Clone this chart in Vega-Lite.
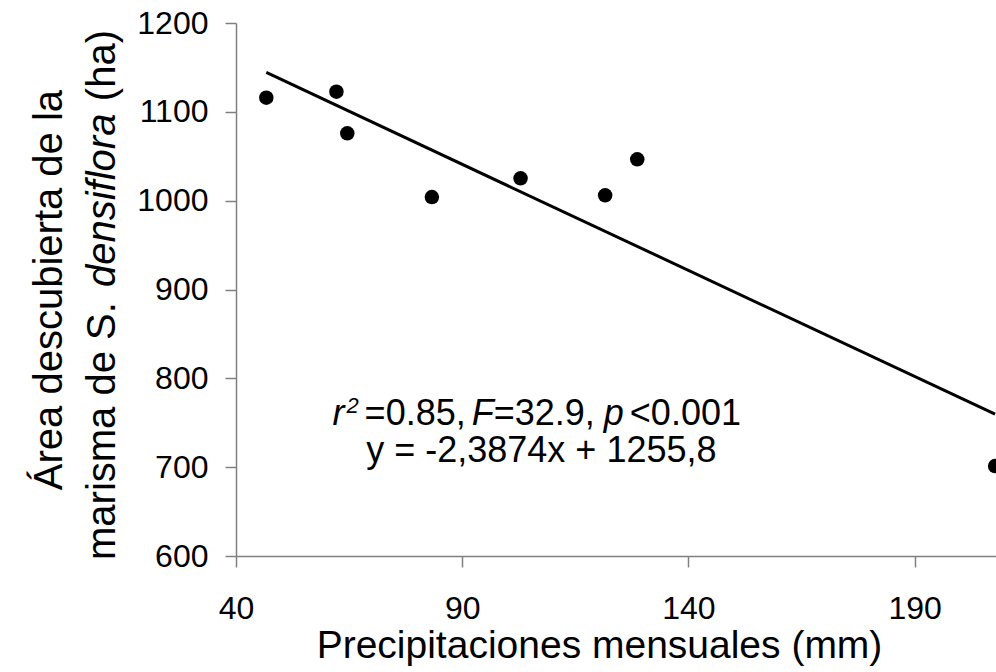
{
  "$schema": "https://vega.github.io/schema/vega-lite/v6.json",
  "autosize": {"type": "none"},
  "width": 760,
  "height": 533,
  "padding": {"left": 236, "top": 23, "right": 0, "bottom": 116},
  "background": "white",
  "config": {
    "view": {"stroke": null},
    "font": "Liberation Sans",
    "text": {"font": "Liberation Sans", "color": "black"}
  },
  "datasets": {
    "obs": [
      {"precip": 46.7, "area": 1115.9},
      {"precip": 62.2, "area": 1122.7},
      {"precip": 64.6, "area": 1075.8},
      {"precip": 83.3, "area": 1004.1},
      {"precip": 102.9, "area": 1025.2},
      {"precip": 121.6, "area": 1006.0},
      {"precip": 128.7, "area": 1046.6},
      {"precip": 207.8, "area": 701.3}
    ],
    "fit": [
      {"precip": 46.7, "area": 1144.3},
      {"precip": 207.8, "area": 759.7}
    ]
  },
  "layer": [
    {
      "data": {"name": "fit"},
      "mark": {"type": "line", "color": "black", "strokeWidth": 3, "clip": false},
      "encoding": {
        "x": {
          "field": "precip", "type": "quantitative",
          "scale": {"domain": [40, 208], "nice": false, "zero": false},
          "axis": {
            "values": [40, 90, 140, 190],
            "format": "d",
            "title": "Precipitaciones mensuales (mm)",
            "titleFont": "Liberation Sans", "titleFontSize": 39, "titleFontWeight": "normal", "titleColor": "black",
            "titlePadding": 2, "titleX": 363, "titleAlign": "center",
            "labelFont": "Liberation Sans", "labelFontSize": 32, "labelColor": "black", "labelPadding": 26,
            "labelFlush": false,
            "domainColor": "#808080", "domainWidth": 1.5,
            "tickColor": "#808080", "tickSize": 11, "tickWidth": 1.5,
            "grid": false
          }
        },
        "y": {
          "field": "area", "type": "quantitative",
          "scale": {"domain": [600, 1200], "nice": false, "zero": false},
          "axis": {
            "values": [600, 700, 800, 900, 1000, 1100, 1200],
            "format": "d",
            "title": null,
            "labelFont": "Liberation Sans", "labelFontSize": 32, "labelColor": "black", "labelPadding": 17,
            "labelFlush": false,
            "domainColor": "#808080", "domainWidth": 1.5,
            "tickColor": "#808080", "tickSize": 11, "tickWidth": 1.5,
            "grid": false
          }
        }
      }
    },
    {
      "data": {"name": "obs"},
      "mark": {"type": "point", "shape": "circle", "filled": true, "color": "black", "opacity": 1, "size": 210, "clip": false},
      "encoding": {
        "x": {"field": "precip", "type": "quantitative"},
        "y": {"field": "area", "type": "quantitative"}
      }
    },
    {
      "data": {"values": [{"t": "r"}]},
      "mark": {"type": "text", "fontSize": 36, "fontStyle": "italic", "align": "left", "baseline": "alphabetic"},
      "encoding": {"x": {"datum": 61.35}, "y": {"datum": 747.5}, "text": {"field": "t"}}
    },
    {
      "data": {"values": [{"t": "2"}]},
      "mark": {"type": "text", "fontSize": 22, "fontStyle": "italic", "align": "left", "baseline": "alphabetic"},
      "encoding": {"x": {"datum": 64.45}, "y": {"datum": 761}, "text": {"field": "t"}}
    },
    {
      "data": {"values": [{"t": "=0.85,"}]},
      "mark": {"type": "text", "fontSize": 36, "align": "left", "baseline": "alphabetic"},
      "encoding": {"x": {"datum": 68.43}, "y": {"datum": 747.5}, "text": {"field": "t"}}
    },
    {
      "data": {"values": [{"t": "F"}]},
      "mark": {"type": "text", "fontSize": 36, "fontStyle": "italic", "align": "left", "baseline": "alphabetic"},
      "encoding": {"x": {"datum": 92.1}, "y": {"datum": 747.5}, "text": {"field": "t"}}
    },
    {
      "data": {"values": [{"t": "=32.9,"}]},
      "mark": {"type": "text", "fontSize": 36, "align": "left", "baseline": "alphabetic"},
      "encoding": {"x": {"datum": 96.97}, "y": {"datum": 747.5}, "text": {"field": "t"}}
    },
    {
      "data": {"values": [{"t": "p"}]},
      "mark": {"type": "text", "fontSize": 36, "fontStyle": "italic", "align": "left", "baseline": "alphabetic"},
      "encoding": {"x": {"datum": 121.31}, "y": {"datum": 747.5}, "text": {"field": "t"}}
    },
    {
      "data": {"values": [{"t": "<0.001"}]},
      "mark": {"type": "text", "fontSize": 36, "align": "left", "baseline": "alphabetic"},
      "encoding": {"x": {"datum": 127.06}, "y": {"datum": 747.5}, "text": {"field": "t"}}
    },
    {
      "data": {"values": [{"t": "y = -2,3874x + 1255,8"}]},
      "mark": {"type": "text", "fontSize": 36, "align": "center", "baseline": "alphabetic"},
      "encoding": {"x": {"datum": 107.5}, "y": {"datum": 705.8}, "text": {"field": "t"}}
    },
    {
      "data": {"values": [{"t": "Área descubierta de la"}]},
      "mark": {"type": "text", "fontSize": 40, "angle": 270, "align": "center", "baseline": "alphabetic", "clip": false},
      "encoding": {"x": {"datum": 1.62}, "y": {"datum": 899.4}, "text": {"field": "t"}}
    },
    {
      "data": {"values": [{"t": "marisma de S."}]},
      "mark": {"type": "text", "fontSize": 40, "angle": 270, "align": "left", "baseline": "alphabetic", "clip": false},
      "encoding": {"x": {"datum": 13.34}, "y": {"datum": 595.5}, "text": {"field": "t"}}
    },
    {
      "data": {"values": [{"t": "densiflora"}]},
      "mark": {"type": "text", "fontSize": 40, "fontStyle": "italic", "angle": 270, "align": "left", "baseline": "alphabetic", "clip": false},
      "encoding": {"x": {"datum": 13.34}, "y": {"datum": 902.8}, "text": {"field": "t"}}
    },
    {
      "data": {"values": [{"t": "(ha)"}]},
      "mark": {"type": "text", "fontSize": 40, "angle": 270, "align": "right", "baseline": "alphabetic", "clip": false},
      "encoding": {"x": {"datum": 13.34}, "y": {"datum": 1192.1}, "text": {"field": "t"}}
    }
  ]
}
